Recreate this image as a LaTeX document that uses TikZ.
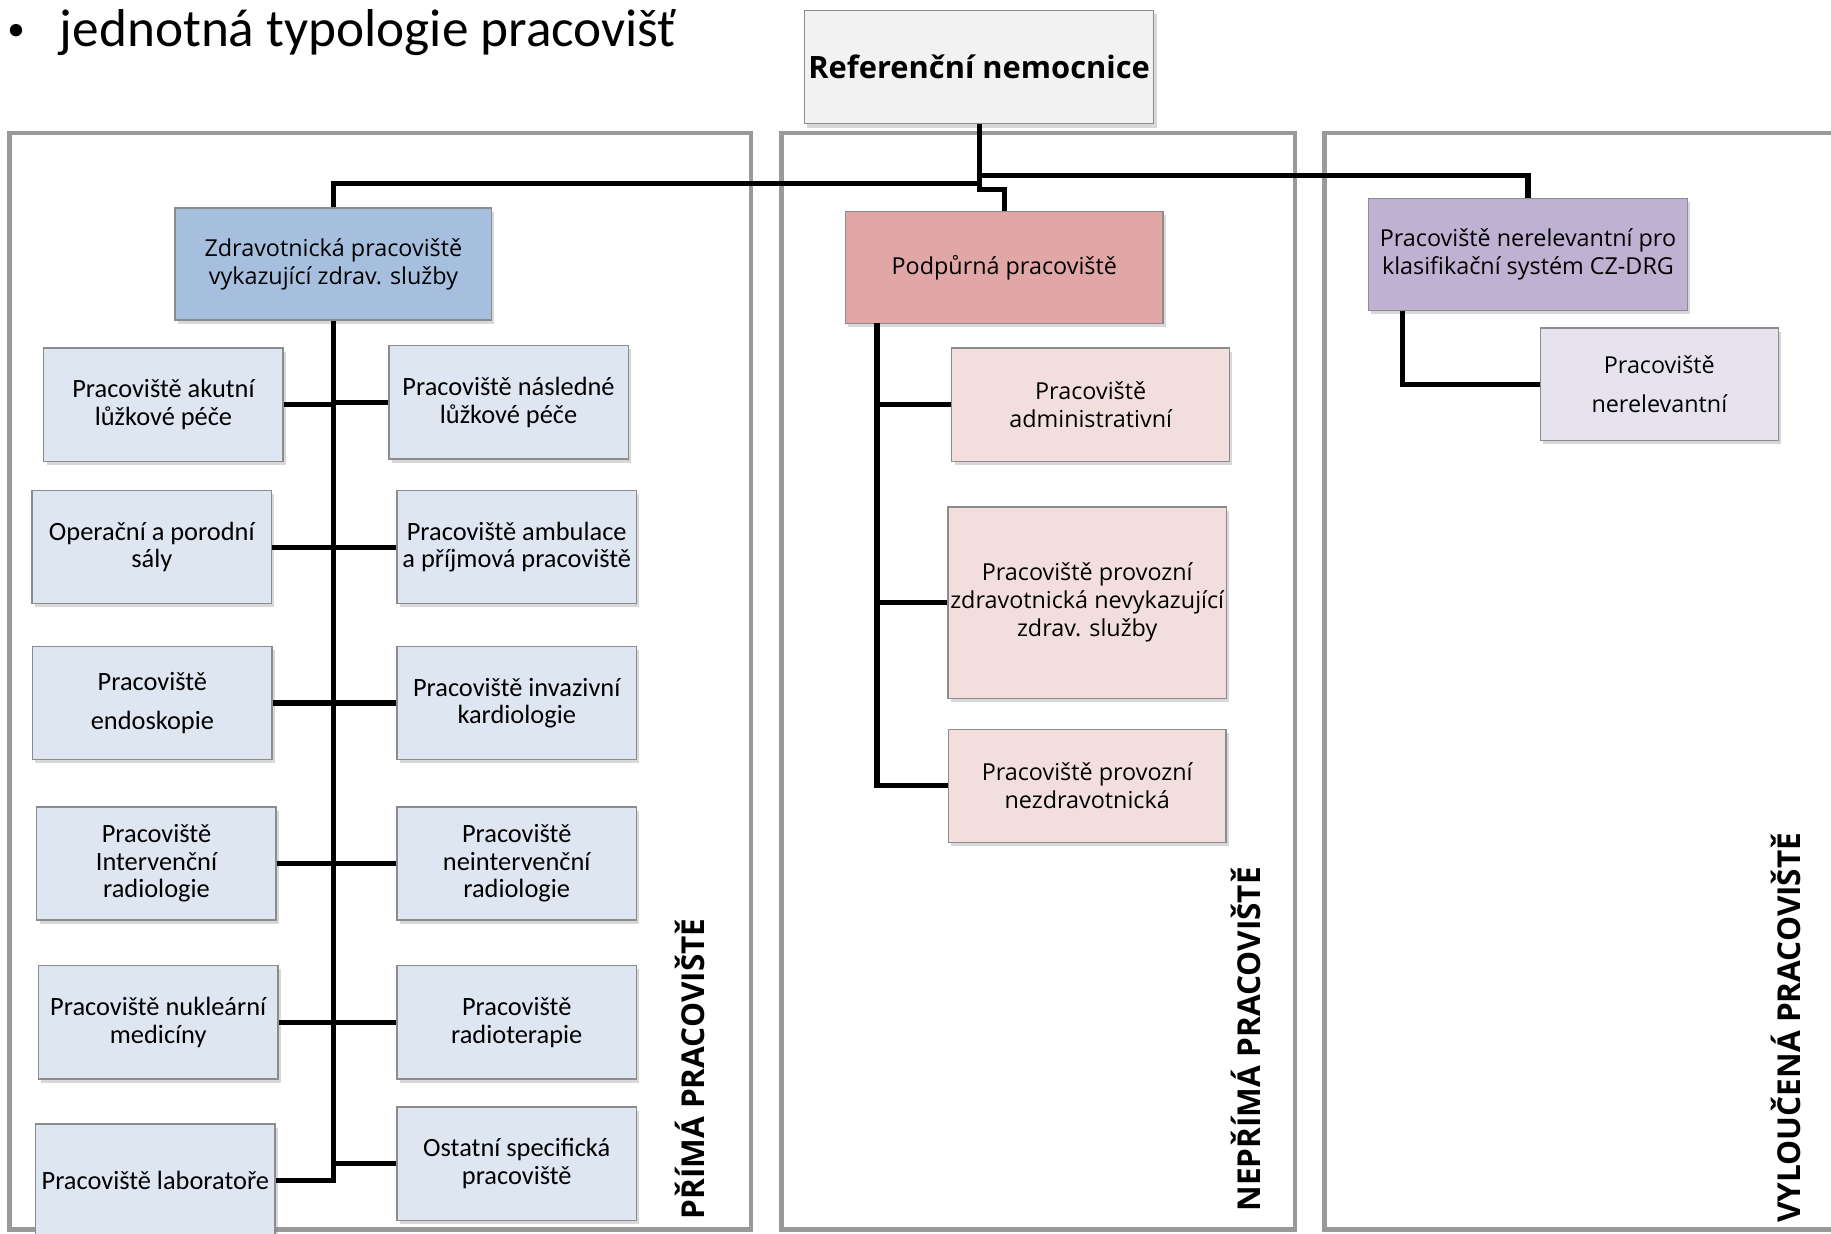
\documentclass[tikz,border=0pt]{standalone}
\usepackage{fontspec}
\setmainfont{Carlito}
\newfontfamily\os{Open Sans}
\usetikzlibrary{shadows}
\definecolor{panelgray}{HTML}{999999}
\definecolor{boxborder}{HTML}{8C8C8C}
\definecolor{topfill}{HTML}{F2F2F2}
\definecolor{zdrfill}{HTML}{A7BFDE}
\definecolor{lblue}{HTML}{DDE6F1}
\definecolor{podfill}{HTML}{E0A7A6}
\definecolor{lpink}{HTML}{F2DEDD}
\definecolor{purfill}{HTML}{BFB1D2}
\definecolor{lpurple}{HTML}{E6E2EE}
\begin{document}
\begin{tikzpicture}[x=0.5pt,y=-0.5pt,
  panel/.style={draw=panelgray, line width=2pt},
  conn/.style={draw=black, line width=2.2pt},
  bx/.style={draw=boxborder, line width=0.6pt, align=center, inner sep=1pt,
    drop shadow={shadow xshift=1.2pt, shadow yshift=-1.6pt, opacity=0.3}},
  lbox/.style={bx, fill=lblue, minimum width=102.5pt, minimum height=48.5pt,
    font=\fontsize{11.3}{11.8}\selectfont},
  mbox/.style={bx, fill=lpink, minimum width=119pt, minimum height=48.5pt,
    font=\os\fontsize{10}{12}\selectfont},
  headbox/.style={bx, minimum width=136pt, minimum height=48pt,
    font=\os\fontsize{10}{12}\selectfont},
  vlabel/.style={rotate=90, font=\os\bfseries\fontsize{13.5}{15}\selectfont}
]
\useasboundingbox (0,0) rectangle (1568,1056);
\fill[white] (0,0) rectangle (1568,1056);

% title
\node[anchor=base west, inner sep=0pt, font=\fontsize{22.8}{26}\selectfont] (title) at (6,40)
  {\raisebox{2.5pt}{\fontsize{15}{15}\selectfont •}\hspace{15pt}jednotná typologie pracovišť};

% panels
\draw[panel] (8,114) rectangle (643,1053);
\draw[panel] (669,114) rectangle (1109,1053);
\draw[panel] (1134,114) rectangle (1580,1053);

% vertical labels
\node[vlabel] (lab1) at (591,915.5) {PŘÍMÁ PRACOVIŠTĚ};
\node[vlabel] (lab2) at (1067,890) {NEPŘÍMÁ PRACOVIŠTĚ};
\node[vlabel] (lab3) at (1529,880) {VYLOUČENÁ PRACOVIŠTĚ};

% top box
\node[bx, fill=topfill, minimum width=149.5pt, minimum height=48.5pt,
  font=\os\bfseries\fontsize{13.2}{15}\selectfont] (top) at (838.5,57.5) {Referenční nemocnice};

% heads
\node[headbox, fill=zdrfill, minimum width=135.5pt] (zdr) at (285.5,226) {Zdravotnická pracoviště\\vykazující zdrav. služby};
\node[headbox, fill=podfill] (pod) at (860,229) {Podpůrná pracoviště};
\node[headbox, fill=purfill, minimum width=136.5pt] (pur) at (1308.5,218) {Pracoviště nerelevantní pro\\klasifikační systém CZ-DRG};

% left children
\node[lbox] (b1) at (140,346.5) {Pracoviště akutní\\lůžkové péče};
\node[lbox] (b2) at (435.5,344.5) {Pracoviště následné\\lůžkové péče};
\node[lbox] (b3) at (130,468.5) {Operační a porodní\\sály};
\node[lbox] (b4) at (442.5,468.5) {Pracoviště ambulace\\a příjmová pracoviště};
\node[lbox, font=\fontsize{11.3}{17}\selectfont] (b5) at (130.5,602) {Pracoviště\\endoskopie};
\node[lbox] (b6) at (442.5,602) {Pracoviště invazivní\\kardiologie};
\node[lbox] (b7) at (134,739.5) {Pracoviště\\Intervenční\\radiologie};
\node[lbox] (b8) at (442.5,739.5) {Pracoviště\\neintervenční\\radiologie};
\node[lbox] (b9) at (135.5,875.5) {Pracoviště nukleární\\medicíny};
\node[lbox] (b10) at (442.5,875.5) {Pracoviště\\radioterapie};
\node[lbox] (b11) at (133,1011) {Pracoviště laboratoře};
\node[lbox] (b12) at (442.5,996.5) {Ostatní specifická\\pracoviště};

% middle children
\node[mbox] (m1) at (934,346.5) {Pracoviště\\administrativní};
\node[mbox, minimum height=82pt] (m2) at (931,516) {Pracoviště provozní\\zdravotnická nevykazující\\zdrav. služby};
\node[mbox] (m3) at (931,673) {Pracoviště provozní\\nezdravotnická};

% right child
\node[bx, fill=lpurple, minimum width=102pt, minimum height=48pt,
  font=\os\fontsize{10}{17}\selectfont] (nr) at (1421,329) {Pracoviště\\nerelevantní};

% connectors from top
\coordinate (j0) at (838.5,150);
\coordinate (j1) at (838.5,157);
\coordinate (j2) at (838.5,162);
\draw[conn] (top.south) -- (j1) -| (zdr.north);
\draw[conn] (j1) -- (j2) -| (pod.north);
\draw[conn] (j0) -| (pur.north);

% left spine
\draw[conn] (zdr.south) |- (b11.east);
\foreach \n in {b1,b3,b5,b7,b9} \draw[conn] (\n.east) -- (\n.east -| zdr.south);
\foreach \n in {b2,b4,b6,b8,b10,b12} \draw[conn] (\n.west) -- (\n.west -| zdr.south);

% middle spine
\coordinate (ps) at (751,277);
\draw[conn] (ps) |- (m3.west);
\draw[conn] (m1.west) -- (m1.west -| ps);
\draw[conn] (m2.west) -- (m2.west -| ps);

% right connector
\coordinate (prs) at (1201,266);
\draw[conn] (prs) |- (nr.west);
\end{tikzpicture}
\end{document}
